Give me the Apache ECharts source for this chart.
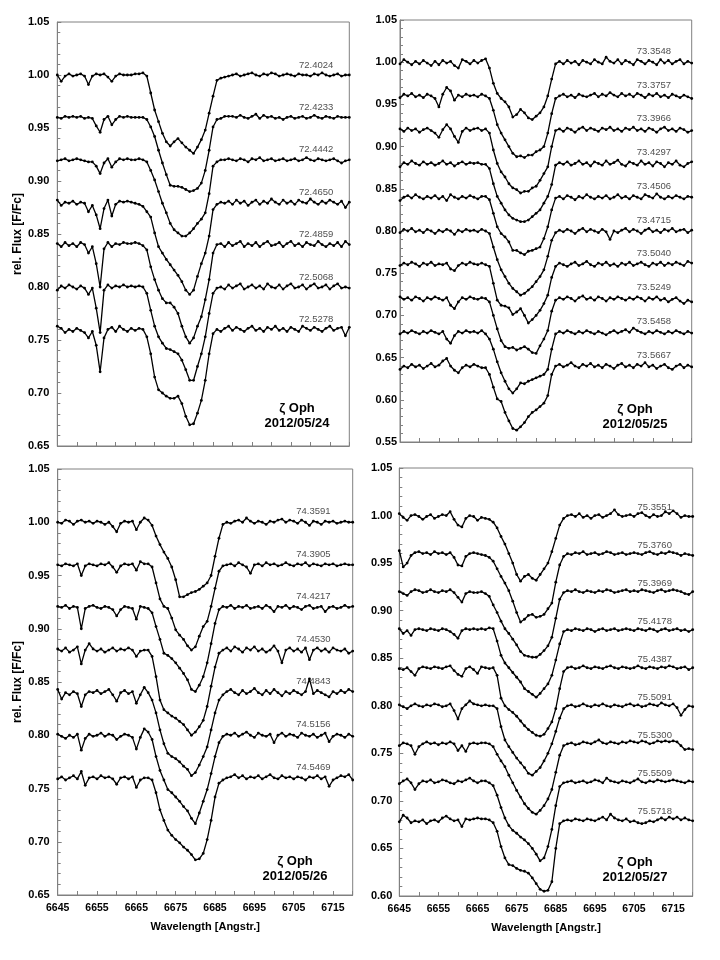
<!DOCTYPE html>
<html>
<head>
<meta charset="utf-8">
<script src="https://cdn.jsdelivr.net/npm/echarts/dist/echarts.min.js"></script>
<style>html,body{margin:0;padding:0;background:#fff}#c{width:720px;height:960px}</style>
</head>
<body>
<div id="c"></div>
<script>
// Wavelength grid (Angstrom)
const WL = [6645,6646,6647,6648,6649,6650,6651,6652,6653,6654,
6655,6656,6657,6658,6659,6660,6661,6662,6663,6664,
6665,6666,6667,6668,6669,6670,6671,6672,6673,6674,
6675,6676,6677,6678,6679,6680,6681,6682,6683,6684,
6685,6686,6687,6688,6689,6690,6691,6692,6693,6694,
6695,6696,6697,6698,6699,6700,6701,6702,6703,6704,
6705,6706,6707,6708,6709,6710,6711,6712,6713,6714,
6715,6716,6717,6718,6719,6720];

// ---------- 2012/05/24 ----------
const TL_NAMES = ['72.4024','72.4233','72.4442','72.4650','72.4859','72.5068','72.5278'];
const TL_LEVELS = [1.00,0.96,0.92,0.88,0.84,0.80,0.76];
const TL_1 = [1.000,0.994,0.999,1.001,0.999,1.000,1.001,0.999,0.991,0.999,
1.001,1.000,1.001,0.998,0.994,0.999,1.001,1.000,1.000,1.000,
1.001,1.001,1.002,0.999,0.983,0.967,0.956,0.945,0.937,0.933,
0.937,0.940,0.936,0.932,0.929,0.926,0.932,0.939,0.948,0.964,
0.980,0.995,0.997,0.998,0.999,1.000,1.001,0.999,1.000,1.001,
1.002,1.000,0.999,1.001,1.000,1.002,1.001,0.999,1.000,1.001,
1.000,0.999,1.001,1.000,1.000,0.999,1.001,1.000,1.002,1.000,
0.999,1.000,1.001,0.999,1.000,1.000];
const TL_2 = [0.960,0.959,0.961,0.960,0.961,0.960,0.961,0.959,0.960,0.959,
0.952,0.946,0.958,0.961,0.953,0.958,0.961,0.960,0.961,0.960,
0.960,0.960,0.960,0.958,0.951,0.942,0.929,0.917,0.906,0.896,
0.895,0.895,0.894,0.892,0.890,0.891,0.893,0.898,0.910,0.929,
0.951,0.958,0.959,0.961,0.961,0.961,0.960,0.962,0.960,0.959,
0.961,0.963,0.959,0.962,0.960,0.961,0.959,0.960,0.958,0.960,
0.961,0.959,0.960,0.961,0.959,0.960,0.962,0.960,0.959,0.961,
0.960,0.959,0.961,0.960,0.960,0.960];
const TL_3 = [0.919,0.920,0.921,0.919,0.920,0.921,0.920,0.919,0.918,0.918,
0.914,0.907,0.917,0.921,0.913,0.918,0.921,0.920,0.921,0.920,
0.920,0.921,0.920,0.918,0.910,0.901,0.890,0.879,0.870,0.860,
0.854,0.851,0.848,0.848,0.851,0.855,0.860,0.864,0.870,0.888,
0.914,0.918,0.920,0.920,0.921,0.920,0.919,0.921,0.920,0.918,
0.921,0.920,0.922,0.919,0.920,0.921,0.919,0.920,0.921,0.919,
0.920,0.921,0.919,0.920,0.922,0.920,0.919,0.921,0.920,0.919,
0.920,0.921,0.919,0.917,0.919,0.920];
const TL_4 = [0.882,0.877,0.880,0.879,0.881,0.878,0.880,0.879,0.871,0.877,
0.868,0.855,0.874,0.882,0.867,0.878,0.881,0.880,0.881,0.880,
0.879,0.878,0.876,0.871,0.866,0.851,0.838,0.832,0.826,0.821,
0.816,0.811,0.805,0.797,0.793,0.797,0.810,0.822,0.832,0.848,
0.873,0.878,0.880,0.879,0.881,0.878,0.882,0.879,0.881,0.877,
0.880,0.882,0.878,0.881,0.879,0.883,0.880,0.878,0.882,0.879,
0.881,0.878,0.882,0.880,0.879,0.883,0.880,0.878,0.881,0.879,
0.882,0.880,0.878,0.881,0.875,0.880];
const TL_5 = [0.841,0.838,0.842,0.839,0.841,0.838,0.842,0.840,0.832,0.838,
0.822,0.800,0.836,0.842,0.838,0.841,0.840,0.842,0.841,0.841,
0.842,0.841,0.839,0.835,0.819,0.807,0.797,0.789,0.785,0.785,
0.781,0.775,0.763,0.753,0.747,0.752,0.763,0.772,0.788,0.807,
0.832,0.840,0.841,0.838,0.842,0.839,0.841,0.843,0.838,0.841,
0.839,0.842,0.838,0.841,0.843,0.839,0.840,0.842,0.838,0.841,
0.843,0.839,0.841,0.838,0.842,0.840,0.839,0.843,0.840,0.838,
0.841,0.839,0.842,0.838,0.843,0.840];
const TL_6 = [0.797,0.801,0.799,0.802,0.800,0.798,0.801,0.799,0.793,0.799,
0.780,0.757,0.797,0.802,0.799,0.801,0.800,0.802,0.800,0.801,
0.800,0.801,0.800,0.794,0.778,0.763,0.753,0.747,0.742,0.741,
0.739,0.737,0.731,0.722,0.712,0.712,0.725,0.737,0.753,0.775,
0.794,0.799,0.800,0.798,0.802,0.799,0.801,0.803,0.798,0.800,
0.802,0.799,0.801,0.798,0.803,0.800,0.799,0.802,0.798,0.801,
0.803,0.799,0.800,0.802,0.798,0.801,0.803,0.799,0.800,0.802,
0.798,0.801,0.803,0.799,0.800,0.799];
const TL_7 = [0.763,0.761,0.757,0.760,0.758,0.761,0.759,0.757,0.752,0.758,
0.745,0.720,0.752,0.760,0.762,0.758,0.763,0.760,0.758,0.761,
0.759,0.761,0.760,0.753,0.737,0.715,0.703,0.700,0.697,0.695,
0.695,0.697,0.690,0.678,0.670,0.671,0.681,0.693,0.712,0.737,
0.756,0.760,0.758,0.761,0.763,0.759,0.762,0.760,0.758,0.761,
0.763,0.759,0.761,0.758,0.762,0.760,0.763,0.759,0.761,0.758,
0.762,0.760,0.758,0.763,0.761,0.759,0.762,0.760,0.758,0.761,
0.763,0.759,0.761,0.762,0.754,0.762];

// ---------- 2012/05/25 ----------
const TR_NAMES = ['73.3548','73.3757','73.3966','73.4297','73.4506','73.4715','73.5040','73.5249','73.5458','73.5667'];
const TR_LEVELS = [1.00,0.96,0.92,0.88,0.84,0.80,0.76,0.72,0.68,0.64];
const TR_1 = [0.998,1.003,1.000,0.997,1.001,0.998,1.002,0.999,0.996,1.001,
0.997,1.002,0.999,1.001,0.996,0.993,1.003,1.001,0.998,1.002,
0.999,1.002,1.004,0.993,0.975,0.963,0.957,0.953,0.947,0.935,
0.938,0.944,0.940,0.934,0.932,0.936,0.940,0.947,0.960,0.980,
0.998,1.001,0.998,1.002,0.999,1.001,0.997,1.002,1.000,0.998,
1.003,1.000,0.998,1.006,1.001,0.999,1.003,0.998,1.002,1.000,
0.997,1.003,1.001,0.998,1.002,1.000,0.997,1.003,0.999,1.002,
0.998,1.001,1.003,0.998,1.001,0.999];
const TR_2 = [0.958,0.962,0.960,0.963,0.959,0.961,0.958,0.962,0.960,0.957,
0.947,0.962,0.970,0.966,0.955,0.961,0.959,0.962,0.960,0.961,
0.959,0.962,0.960,0.957,0.943,0.926,0.916,0.908,0.900,0.892,
0.888,0.889,0.887,0.890,0.890,0.894,0.896,0.900,0.916,0.939,
0.957,0.960,0.962,0.959,0.961,0.958,0.962,0.960,0.959,0.961,
0.963,0.959,0.962,0.960,0.964,0.961,0.959,0.963,0.960,0.962,
0.959,0.963,0.961,0.958,0.962,0.960,0.963,0.959,0.961,0.958,
0.962,0.960,0.958,0.961,0.959,0.957];
const TR_3 = [0.921,0.918,0.922,0.919,0.921,0.917,0.920,0.922,0.919,0.916,
0.911,0.920,0.926,0.921,0.912,0.905,0.918,0.922,0.919,0.921,
0.922,0.919,0.921,0.916,0.896,0.880,0.870,0.864,0.856,0.851,
0.849,0.845,0.847,0.847,0.851,0.853,0.860,0.868,0.876,0.900,
0.919,0.921,0.918,0.922,0.920,0.917,0.921,0.923,0.919,0.922,
0.920,0.918,0.922,0.920,0.923,0.919,0.921,0.918,0.922,0.920,
0.923,0.919,0.921,0.918,0.922,0.920,0.917,0.921,0.923,0.919,
0.921,0.918,0.922,0.920,0.917,0.919];
const TR_4 = [0.876,0.881,0.879,0.883,0.880,0.878,0.882,0.879,0.881,0.878,
0.880,0.883,0.879,0.881,0.877,0.880,0.882,0.879,0.881,0.880,
0.881,0.879,0.879,0.874,0.856,0.841,0.833,0.825,0.819,0.815,
0.813,0.811,0.811,0.813,0.817,0.821,0.825,0.833,0.841,0.855,
0.878,0.881,0.879,0.882,0.878,0.880,0.883,0.879,0.881,0.877,
0.882,0.880,0.878,0.883,0.879,0.881,0.884,0.879,0.877,0.882,
0.880,0.878,0.883,0.879,0.881,0.877,0.882,0.880,0.876,0.881,
0.879,0.883,0.878,0.876,0.880,0.882];
const TR_5 = [0.836,0.840,0.842,0.839,0.843,0.840,0.838,0.841,0.839,0.842,
0.838,0.841,0.836,0.843,0.840,0.838,0.841,0.839,0.842,0.840,
0.838,0.841,0.841,0.837,0.821,0.805,0.797,0.793,0.787,0.777,
0.777,0.774,0.772,0.776,0.777,0.779,0.781,0.791,0.805,0.825,
0.839,0.841,0.838,0.842,0.840,0.837,0.841,0.839,0.843,0.840,
0.838,0.841,0.839,0.842,0.838,0.840,0.843,0.839,0.841,0.838,
0.842,0.840,0.838,0.843,0.841,0.839,0.844,0.840,0.838,0.841,
0.839,0.842,0.840,0.838,0.841,0.840];
const TR_6 = [0.798,0.802,0.800,0.803,0.799,0.801,0.798,0.802,0.800,0.797,
0.801,0.799,0.802,0.800,0.796,0.801,0.799,0.802,0.800,0.801,
0.799,0.802,0.800,0.797,0.781,0.766,0.754,0.746,0.738,0.732,
0.728,0.724,0.726,0.730,0.734,0.740,0.746,0.754,0.770,0.789,
0.798,0.801,0.799,0.802,0.800,0.797,0.801,0.803,0.799,0.802,
0.800,0.798,0.802,0.799,0.790,0.800,0.798,0.801,0.803,0.799,
0.802,0.800,0.797,0.801,0.803,0.799,0.801,0.798,0.802,0.800,
0.803,0.799,0.801,0.802,0.798,0.801];
const TR_7 = [0.759,0.762,0.760,0.763,0.761,0.758,0.762,0.760,0.763,0.759,
0.761,0.760,0.762,0.755,0.753,0.759,0.762,0.760,0.763,0.761,
0.760,0.762,0.760,0.758,0.738,0.718,0.712,0.711,0.709,0.701,
0.704,0.708,0.700,0.691,0.695,0.700,0.706,0.714,0.724,0.745,
0.758,0.762,0.760,0.758,0.761,0.763,0.759,0.761,0.764,0.760,
0.758,0.762,0.760,0.763,0.759,0.761,0.758,0.762,0.760,0.763,
0.759,0.761,0.763,0.760,0.758,0.762,0.760,0.763,0.759,0.762,
0.760,0.763,0.761,0.759,0.764,0.762];
const TR_8 = [0.722,0.719,0.721,0.718,0.722,0.720,0.717,0.721,0.719,0.722,
0.720,0.718,0.721,0.712,0.708,0.716,0.721,0.719,0.722,0.720,
0.719,0.721,0.720,0.716,0.700,0.684,0.670,0.663,0.661,0.662,
0.659,0.661,0.663,0.660,0.656,0.655,0.664,0.672,0.682,0.705,
0.718,0.721,0.719,0.722,0.720,0.717,0.721,0.723,0.719,0.721,
0.718,0.722,0.720,0.717,0.721,0.719,0.722,0.720,0.718,0.721,
0.719,0.722,0.720,0.717,0.721,0.719,0.722,0.718,0.720,0.716,
0.719,0.721,0.717,0.714,0.718,0.716];
const TR_9 = [0.678,0.681,0.679,0.682,0.680,0.678,0.681,0.679,0.682,0.680,
0.678,0.681,0.672,0.667,0.676,0.681,0.679,0.682,0.680,0.681,
0.679,0.682,0.678,0.672,0.660,0.645,0.632,0.622,0.613,0.608,
0.613,0.620,0.619,0.622,0.624,0.626,0.628,0.630,0.636,0.660,
0.678,0.681,0.679,0.682,0.680,0.678,0.681,0.679,0.682,0.680,
0.678,0.681,0.679,0.677,0.680,0.682,0.679,0.681,0.683,0.680,
0.685,0.682,0.680,0.678,0.681,0.679,0.682,0.680,0.678,0.681,
0.679,0.682,0.680,0.678,0.681,0.679];
const TR_10 = [0.636,0.640,0.638,0.642,0.639,0.641,0.637,0.640,0.643,0.639,
0.641,0.646,0.649,0.640,0.635,0.632,0.638,0.641,0.639,0.642,
0.640,0.638,0.638,0.630,0.615,0.601,0.598,0.585,0.575,0.566,
0.564,0.568,0.573,0.580,0.585,0.588,0.592,0.596,0.605,0.630,
0.640,0.642,0.639,0.641,0.644,0.640,0.638,0.642,0.640,0.643,
0.639,0.641,0.638,0.642,0.640,0.637,0.641,0.643,0.639,0.641,
0.638,0.642,0.640,0.644,0.639,0.641,0.637,0.640,0.642,0.638,
0.636,0.640,0.642,0.638,0.641,0.639];

// ---------- 2012/05/26 ----------
const BL_NAMES = ['74.3591','74.3905','74.4217','74.4530','74.4843','74.5156','74.5469'];
const BL_LEVELS = [1.00,0.96,0.92,0.88,0.84,0.80,0.76];
const BL_1 = [1.000,0.999,1.002,1.001,0.998,1.001,1.002,1.000,1.001,0.999,
1.001,1.000,0.998,1.000,0.996,0.991,0.999,1.001,1.000,1.001,
0.993,1.000,1.004,1.002,0.997,0.987,0.979,0.972,0.966,0.958,
0.946,0.930,0.930,0.932,0.934,0.935,0.937,0.940,0.943,0.950,
0.968,0.985,0.998,1.000,0.999,1.001,1.002,1.000,1.004,1.001,
0.999,1.001,1.000,0.998,1.001,1.000,1.002,1.003,1.000,1.002,
1.001,0.999,1.002,1.000,0.997,1.001,1.000,0.998,1.001,1.000,
1.001,0.999,1.000,1.001,1.000,1.000];
const BL_2 = [0.960,0.959,0.961,0.960,0.959,0.961,0.950,0.959,0.961,0.960,
0.959,0.961,0.960,0.962,0.958,0.953,0.959,0.961,0.960,0.961,
0.955,0.963,0.961,0.961,0.958,0.943,0.928,0.921,0.919,0.910,
0.899,0.894,0.890,0.884,0.880,0.883,0.893,0.902,0.907,0.921,
0.938,0.954,0.959,0.960,0.961,0.959,0.962,0.960,0.958,0.952,
0.960,0.961,0.959,0.962,0.960,0.961,0.959,0.960,0.962,0.960,
0.959,0.961,0.960,0.962,0.959,0.961,0.960,0.959,0.961,0.960,
0.961,0.959,0.960,0.961,0.960,0.960];
const BL_3 = [0.921,0.920,0.922,0.919,0.921,0.920,0.900,0.919,0.921,0.922,
0.920,0.919,0.921,0.920,0.918,0.912,0.918,0.921,0.920,0.919,
0.909,0.921,0.920,0.919,0.915,0.902,0.890,0.877,0.875,0.872,
0.868,0.863,0.858,0.852,0.843,0.841,0.847,0.855,0.868,0.886,
0.905,0.918,0.921,0.920,0.922,0.919,0.921,0.920,0.922,0.919,
0.920,0.921,0.919,0.922,0.920,0.916,0.921,0.920,0.922,0.919,
0.921,0.920,0.918,0.921,0.922,0.919,0.920,0.921,0.916,0.920,
0.921,0.919,0.920,0.922,0.920,0.921];
const BL_4 = [0.881,0.879,0.882,0.878,0.880,0.883,0.867,0.880,0.886,0.881,
0.879,0.881,0.878,0.880,0.882,0.879,0.881,0.880,0.882,0.880,
0.874,0.879,0.880,0.880,0.874,0.855,0.833,0.824,0.821,0.818,
0.816,0.813,0.810,0.805,0.800,0.803,0.808,0.814,0.827,0.846,
0.864,0.877,0.880,0.882,0.879,0.883,0.881,0.878,0.882,0.880,
0.883,0.879,0.881,0.878,0.880,0.884,0.879,0.868,0.880,0.882,
0.879,0.881,0.878,0.882,0.871,0.880,0.882,0.879,0.881,0.878,
0.882,0.880,0.879,0.881,0.877,0.879];
const BL_5 = [0.843,0.834,0.840,0.838,0.841,0.839,0.827,0.838,0.841,0.840,
0.842,0.839,0.841,0.843,0.838,0.832,0.840,0.842,0.839,0.841,
0.830,0.838,0.845,0.840,0.833,0.821,0.805,0.792,0.783,0.780,
0.778,0.775,0.771,0.768,0.762,0.765,0.772,0.780,0.789,0.805,
0.821,0.833,0.838,0.841,0.843,0.840,0.838,0.842,0.839,0.841,
0.844,0.840,0.838,0.842,0.839,0.843,0.840,0.837,0.841,0.839,
0.842,0.840,0.838,0.841,0.853,0.839,0.842,0.840,0.838,0.836,
0.841,0.839,0.842,0.840,0.843,0.841];
const BL_6 = [0.801,0.799,0.797,0.800,0.798,0.801,0.786,0.797,0.801,0.799,
0.800,0.802,0.799,0.801,0.800,0.796,0.799,0.801,0.800,0.798,
0.787,0.798,0.806,0.803,0.796,0.780,0.767,0.758,0.749,0.746,
0.742,0.738,0.733,0.729,0.722,0.717,0.727,0.738,0.749,0.764,
0.780,0.793,0.799,0.801,0.800,0.802,0.799,0.801,0.803,0.800,
0.798,0.802,0.800,0.799,0.801,0.793,0.800,0.802,0.799,0.801,
0.800,0.798,0.802,0.800,0.799,0.801,0.798,0.800,0.802,0.794,
0.799,0.801,0.800,0.798,0.801,0.799];
const BL_7 = [0.759,0.761,0.758,0.760,0.762,0.759,0.766,0.753,0.760,0.761,
0.759,0.762,0.760,0.761,0.759,0.754,0.760,0.761,0.759,0.761,
0.751,0.758,0.760,0.760,0.758,0.746,0.730,0.720,0.711,0.706,
0.702,0.699,0.695,0.692,0.688,0.683,0.684,0.689,0.702,0.720,
0.742,0.755,0.758,0.760,0.761,0.763,0.760,0.762,0.759,0.761,
0.760,0.762,0.759,0.761,0.763,0.760,0.759,0.762,0.760,0.761,
0.759,0.761,0.760,0.758,0.761,0.760,0.762,0.759,0.761,0.752,
0.758,0.760,0.762,0.761,0.763,0.758];

// ---------- 2012/05/27 ----------
const BR_NAMES = ['75.3551','75.3760','75.3969','75.4178','75.4387','75.5091','75.5300','75.5509','75.5718'];
const BR_LEVELS = [1.00,0.96,0.92,0.88,0.84,0.80,0.76,0.72,0.68];
const BR_1 = [1.002,0.998,0.995,1.000,1.001,0.999,0.996,0.999,1.001,0.997,
0.999,1.001,1.000,1.004,0.996,0.990,0.988,0.997,1.000,0.999,
0.995,0.998,0.997,0.996,0.993,0.987,0.978,0.970,0.960,0.950,
0.938,0.931,0.936,0.938,0.934,0.932,0.938,0.944,0.950,0.962,
0.976,0.990,0.997,1.000,1.001,0.999,1.002,0.998,1.000,0.997,
1.000,1.001,0.998,1.000,1.002,1.006,1.001,0.999,1.000,1.001,
0.999,1.002,1.003,1.000,0.998,1.001,0.999,1.000,1.004,1.002,
1.005,1.002,0.998,1.000,0.999,0.999];
const BR_2 = [0.963,0.946,0.950,0.958,0.961,0.962,0.960,0.961,0.959,0.962,
0.960,0.961,0.959,0.961,0.956,0.948,0.947,0.957,0.960,0.961,
0.960,0.959,0.958,0.956,0.952,0.944,0.936,0.929,0.921,0.910,
0.898,0.888,0.891,0.895,0.896,0.893,0.894,0.896,0.902,0.908,
0.930,0.948,0.957,0.960,0.959,0.961,0.960,0.962,0.959,0.960,
0.961,0.959,0.960,0.962,0.961,0.959,0.960,0.961,0.959,0.960,
0.961,0.960,0.959,0.961,0.962,0.960,0.959,0.961,0.960,0.962,
0.961,0.960,0.958,0.960,0.959,0.958];
const BR_3 = [0.920,0.918,0.916,0.920,0.922,0.921,0.919,0.920,0.922,0.920,
0.919,0.921,0.920,0.922,0.919,0.914,0.909,0.918,0.920,0.919,
0.919,0.920,0.918,0.915,0.906,0.898,0.889,0.881,0.876,0.870,
0.864,0.857,0.853,0.852,0.851,0.851,0.854,0.858,0.863,0.872,
0.892,0.912,0.919,0.921,0.920,0.922,0.920,0.919,0.921,0.920,
0.919,0.921,0.920,0.922,0.921,0.919,0.920,0.921,0.922,0.920,
0.921,0.920,0.922,0.921,0.920,0.919,0.921,0.922,0.920,0.921,
0.922,0.921,0.920,0.918,0.917,0.920];
const BR_4 = [0.881,0.876,0.879,0.874,0.880,0.881,0.880,0.879,0.881,0.880,
0.879,0.881,0.880,0.878,0.875,0.871,0.879,0.881,0.880,0.881,
0.880,0.881,0.880,0.882,0.881,0.868,0.853,0.845,0.840,0.835,
0.830,0.825,0.818,0.815,0.812,0.809,0.813,0.818,0.823,0.832,
0.848,0.865,0.878,0.880,0.879,0.881,0.880,0.879,0.881,0.880,
0.878,0.880,0.881,0.879,0.880,0.881,0.879,0.880,0.881,0.880,
0.879,0.881,0.880,0.879,0.881,0.880,0.878,0.880,0.881,0.879,
0.880,0.881,0.879,0.880,0.878,0.880];
const BR_5 = [0.839,0.838,0.840,0.836,0.832,0.839,0.841,0.840,0.839,0.841,
0.840,0.839,0.841,0.842,0.837,0.833,0.831,0.839,0.841,0.838,
0.834,0.841,0.840,0.839,0.840,0.832,0.808,0.800,0.796,0.793,
0.789,0.784,0.779,0.775,0.772,0.769,0.768,0.770,0.776,0.783,
0.797,0.818,0.836,0.840,0.841,0.839,0.840,0.842,0.840,0.839,
0.841,0.840,0.839,0.841,0.842,0.840,0.839,0.841,0.840,0.839,
0.840,0.842,0.840,0.839,0.841,0.840,0.839,0.841,0.840,0.842,
0.841,0.839,0.840,0.841,0.838,0.840];
const BR_6 = [0.801,0.799,0.797,0.800,0.802,0.800,0.799,0.801,0.800,0.802,
0.801,0.799,0.800,0.802,0.795,0.786,0.797,0.801,0.805,0.802,
0.801,0.800,0.801,0.800,0.800,0.797,0.778,0.764,0.757,0.751,
0.745,0.740,0.735,0.729,0.727,0.731,0.735,0.742,0.750,0.760,
0.773,0.787,0.797,0.800,0.801,0.799,0.800,0.802,0.800,0.799,
0.801,0.800,0.802,0.800,0.799,0.801,0.800,0.799,0.801,0.802,
0.800,0.801,0.799,0.800,0.802,0.801,0.800,0.803,0.801,0.800,
0.802,0.798,0.790,0.796,0.800,0.799];
const BR_7 = [0.758,0.761,0.760,0.758,0.749,0.757,0.760,0.762,0.760,0.761,
0.759,0.761,0.760,0.762,0.760,0.753,0.758,0.752,0.760,0.761,
0.760,0.761,0.761,0.760,0.757,0.749,0.742,0.736,0.727,0.719,
0.711,0.704,0.697,0.692,0.688,0.686,0.690,0.695,0.702,0.712,
0.730,0.748,0.758,0.760,0.761,0.759,0.760,0.762,0.761,0.760,
0.762,0.764,0.761,0.760,0.762,0.761,0.760,0.762,0.761,0.763,
0.762,0.761,0.763,0.762,0.760,0.761,0.763,0.762,0.763,0.762,
0.763,0.762,0.758,0.754,0.755,0.754];
const BR_8 = [0.718,0.721,0.723,0.719,0.712,0.718,0.721,0.720,0.722,0.719,
0.720,0.722,0.721,0.719,0.718,0.721,0.720,0.722,0.724,0.721,
0.719,0.721,0.721,0.719,0.716,0.706,0.693,0.682,0.674,0.669,
0.666,0.662,0.659,0.655,0.650,0.644,0.637,0.640,0.652,0.670,
0.695,0.715,0.719,0.720,0.721,0.719,0.720,0.721,0.719,0.720,
0.722,0.721,0.719,0.724,0.721,0.720,0.719,0.721,0.720,0.719,
0.721,0.723,0.720,0.719,0.721,0.720,0.722,0.721,0.720,0.721,
0.722,0.721,0.720,0.719,0.721,0.720];
const BR_9 = [0.678,0.685,0.682,0.677,0.679,0.678,0.680,0.676,0.679,0.680,
0.678,0.682,0.684,0.681,0.679,0.680,0.673,0.681,0.680,0.681,
0.682,0.681,0.681,0.680,0.677,0.668,0.652,0.640,0.633,0.632,
0.629,0.627,0.626,0.624,0.619,0.613,0.607,0.605,0.606,0.615,
0.650,0.676,0.679,0.680,0.679,0.681,0.680,0.679,0.681,0.680,
0.679,0.681,0.683,0.680,0.686,0.682,0.680,0.679,0.681,0.678,
0.679,0.677,0.676,0.677,0.679,0.678,0.680,0.682,0.680,0.683,
0.681,0.683,0.680,0.682,0.680,0.679];

const X_TICKS_LABELED = [6645,6655,6665,6675,6685,6695,6705,6715];

// ---------- layout / style ----------
const FONT = '"Liberation Sans", Arial, Helvetica, sans-serif';
const GRAY = '#808080';
const panels = [
  {names: TL_NAMES, levels: TL_LEVELS, spectra: [TL_1,TL_2,TL_3,TL_4,TL_5,TL_6,TL_7],
   grid: {left: 57.3, top: 22, width: 292, height: 424}, ymin: 0.65, bottom: false, yname: true,
   labelX: 6711.5, labelOff: 0.0095, lblMargin: 8,
   note: {x: 297, y: 415.5, text: 'ζ Oph\n2012/05/24'}},
  {names: TR_NAMES, levels: TR_LEVELS, spectra: [TR_1,TR_2,TR_3,TR_4,TR_5,TR_6,TR_7,TR_8,TR_9,TR_10],
   grid: {left: 400, top: 20, width: 291.7, height: 422}, ymin: 0.55, bottom: false, yname: false,
   labelX: 6710.3, labelOff: 0.013, lblMargin: 3,
   note: {x: 635, y: 416.5, text: 'ζ Oph\n2012/05/25'}},
  {names: BL_NAMES, levels: BL_LEVELS, spectra: [BL_1,BL_2,BL_3,BL_4,BL_5,BL_6,BL_7],
   grid: {left: 57.7, top: 469, width: 295, height: 426}, ymin: 0.65, bottom: true, yname: true,
   labelX: 6710, labelOff: 0.0103, lblMargin: 8,
   note: {x: 295, y: 869, text: 'ζ Oph\n2012/05/26'}},
  {names: BR_NAMES, levels: BR_LEVELS, spectra: [BR_1,BR_2,BR_3,BR_4,BR_5,BR_6,BR_7,BR_8,BR_9],
   grid: {left: 399.3, top: 468, width: 293.4, height: 428}, ymin: 0.60, bottom: true, yname: false,
   labelX: 6710.3, labelOff: 0.0085, lblMargin: 7,
   note: {x: 635, y: 869.5, text: 'ζ Oph\n2012/05/27'}}
];

const grids = [], xAxes = [], yAxes = [], series = [], graphics = [];
panels.forEach((p, gi) => {
  grids.push(Object.assign({show: true, borderColor: GRAY, borderWidth: 1, containLabel: false}, p.grid));
  xAxes.push({
    type: 'value', gridIndex: gi, min: 6645, max: 6720, interval: 5,
    axisLine: {show: true, lineStyle: {color: GRAY, width: 1}},
    axisTick: {show: true, inside: true, length: 4, lineStyle: {color: GRAY}},
    axisLabel: {show: p.bottom, margin: 8, color: '#000', fontFamily: FONT, fontWeight: 'bold', fontSize: 10.5,
      formatter: v => (X_TICKS_LABELED.indexOf(Math.round(v)) >= 0 ? String(Math.round(v)) : '')},
    splitLine: {show: false},
    name: p.bottom ? 'Wavelength [Angstr.]' : '', nameLocation: 'middle', nameGap: 26,
    nameTextStyle: {color: '#000', fontFamily: FONT, fontWeight: 'bold', fontSize: 11}
  });
  yAxes.push({
    type: 'value', gridIndex: gi, min: p.ymin, max: 1.05, interval: 0.05,
    axisLine: {show: true, lineStyle: {color: GRAY, width: 1}},
    axisTick: {show: true, inside: true, length: 4, lineStyle: {color: GRAY}},
    minorTick: {show: true, splitNumber: 5, length: 3, lineStyle: {color: GRAY}},
    axisLabel: {margin: p.lblMargin, color: '#000', fontFamily: FONT, fontWeight: 'bold', fontSize: 11,
      formatter: v => v.toFixed(2)},
    splitLine: {show: false},
    name: p.yname ? 'rel. Flux [F/Fc]' : '', nameLocation: 'middle', nameGap: 34, nameRotate: 90,
    nameTextStyle: {color: '#000', fontFamily: FONT, fontWeight: 'bold', fontSize: 12}
  });
  p.spectra.forEach((arr, si) => {
    series.push({
      type: 'line', xAxisIndex: gi, yAxisIndex: gi, name: p.names[si],
      data: WL.map((w, i) => [w, arr[i]]),
      showSymbol: true, symbol: 'circle', symbolSize: 2.8,
      lineStyle: {color: '#000', width: 1.3}, itemStyle: {color: '#000'},
      animation: false, silent: true, z: 3
    });
  });
  series.push({
    type: 'scatter', xAxisIndex: gi, yAxisIndex: gi, symbolSize: 1,
    itemStyle: {color: 'rgba(0,0,0,0)'}, silent: true, animation: false, z: 5,
    data: p.names.map((n, i) => ({name: n, value: [p.labelX, p.levels[i] + p.labelOff]})),
    label: {show: true, position: 'inside', formatter: q => q.name, color: '#222',
      fontFamily: FONT, fontSize: 9.5}
  });
  graphics.push({
    type: 'text', x: p.note.x, y: p.note.y, z: 10,
    style: {text: p.note.text, align: 'center', verticalAlign: 'middle', textAlign: 'center', textVerticalAlign: 'middle',
      font: 'bold 13px ' + FONT, fill: '#000', lineHeight: 15}
  });
});

const chart = echarts.init(document.getElementById('c'), null, {renderer: 'canvas'});
chart.setOption({
  backgroundColor: '#fff', animation: false,
  grid: grids, xAxis: xAxes, yAxis: yAxes, series: series, graphic: graphics
});
</script>
</body>
</html>
